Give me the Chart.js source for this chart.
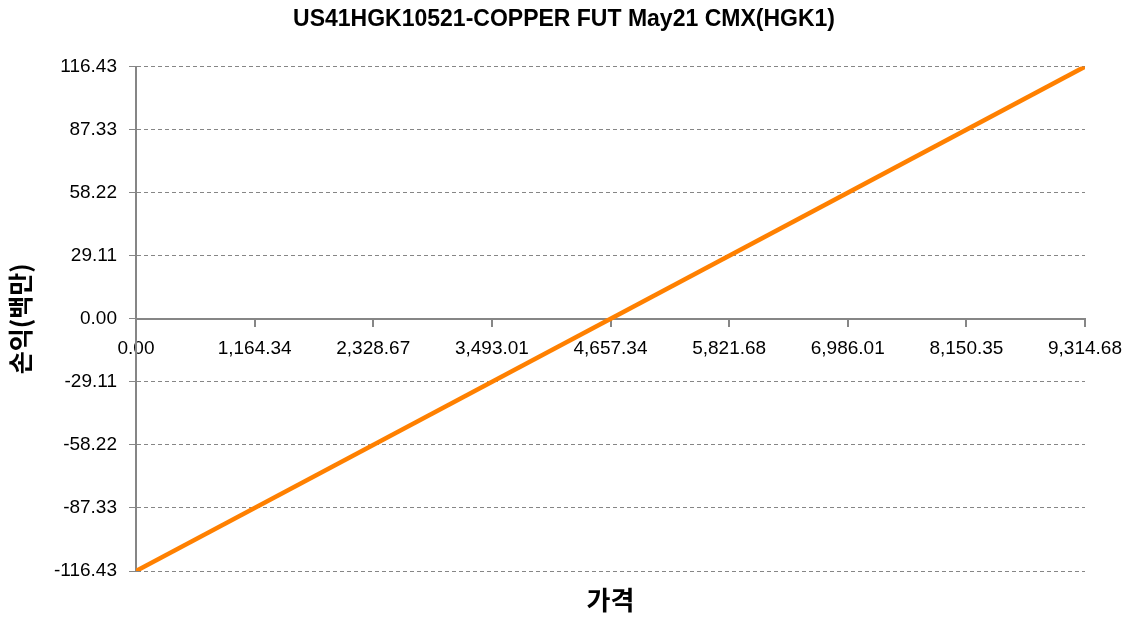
<!DOCTYPE html>
<html>
<head>
<meta charset="utf-8">
<script src="https://cdn.jsdelivr.net/npm/chart.js@4/dist/chart.umd.min.js"></script>
<style>
  html, body { margin: 0; padding: 0; background: #fff; }
  #wrap { width: 1128px; height: 619px; }
</style>
</head>
<body>
<div id="wrap"><canvas id="pnl"></canvas></div>
<script>
const chartTitle = 'US41HGK10521-COPPER FUT May21 CMX(HGK1)';
const xTitle = '가격';
const yTitle = '손익(백만)';

// price / profit-loss line end points
const prices = [0, 9314.68];
const pnl = [-116.43, 116.43];

const xTicks = [0, 1164.34, 2328.67, 3493.01, 4657.34, 5821.68, 6986.01, 8150.35, 9314.68];
const xTickLabels = ['0.00', '1,164.34', '2,328.67', '3,493.01', '4,657.34', '5,821.68', '6,986.01', '8,150.35', '9,314.68'];
const yTicks = [-116.43, -87.33, -58.22, -29.11, 0, 29.11, 58.22, 87.33, 116.43];
const yTickLabels = ['-116.43', '-87.33', '-58.22', '-29.11', '0.00', '29.11', '58.22', '87.33', '116.43'];

const tickFont = { family: 'Liberation Sans', size: 19 };
const axisGray = '#868686';

let points = prices.map((p, i) => ({ x: p, y: pnl[i] }));

let canvas = document.getElementById('pnl').getContext('2d');
let chart = new Chart(canvas, {
    type: 'line',
    data: {
        datasets: [{
            data: points,
            borderColor: '#ff8000',
            borderWidth: 4.5,
            pointRadius: 0,
            tension: 0,
            fill: false,
        }],
    },
    options: {
        responsive: true,
        maintainAspectRatio: false,
        animation: false,
        layout: { padding: 0 },
        plugins: {
            legend: { display: false },
            tooltip: { enabled: false },
            title: {
                display: true,
                text: chartTitle,
                color: '#000',
                font: { family: 'Liberation Sans', size: 23, weight: 'bold' },
                padding: { top: 6, bottom: 33 },
            },
        },
        scales: {
            x: {
                type: 'linear',
                position: { y: 0 },
                min: 0,
                max: 9314.68,
                afterBuildTicks: (scale) => { scale.ticks = xTicks.map(v => ({ value: v })); },
                afterFit: (scale) => { scale.paddingLeft = 0; scale.paddingRight = 0; },
                ticks: {
                    color: '#000',
                    font: tickFont,
                    maxRotation: 0,
                    autoSkip: false,
                    padding: 12,
                    callback: (v, i) => xTickLabels[i],
                },
                grid: { drawOnChartArea: false, drawTicks: true, tickLength: 7, color: axisGray, lineWidth: 2 },
                border: { display: true, color: axisGray, width: 2 },
            },
            // bottom axis only carries the x title
            xTitleAxis: {
                type: 'linear',
                axis: 'x',
                position: 'bottom',
                ticks: { display: false },
                grid: { display: false, drawTicks: false },
                border: { display: false },
                afterFit: (scale) => { scale.height = 48; scale.paddingLeft = 0; scale.paddingRight = 0; },
                title: {
                    display: true,
                    text: xTitle,
                    color: '#000',
                    font: { family: 'Noto Sans CJK KR', size: 26, weight: 'bold' },
                    padding: { top: 0, bottom: 3 },
                },
            },
            y: {
                type: 'linear',
                min: -116.43,
                max: 116.43,
                afterBuildTicks: (scale) => { scale.ticks = yTicks.map(v => ({ value: v })); },
                afterFit: (scale) => { scale.width = 136; },
                title: {
                    display: true,
                    text: yTitle,
                    color: '#000',
                    font: { family: 'Noto Sans CJK KR', size: 25, weight: 'bold' },
                    padding: { top: 5, bottom: 0 },
                },
                ticks: {
                    color: '#000',
                    font: tickFont,
                    padding: 12,
                    callback: (v, i) => yTickLabels[i],
                },
                grid: { color: axisGray, lineWidth: 1, tickLength: 7 },
                border: { display: true, color: axisGray, width: 2, dash: [4, 3] },
            },
            // empty right axis keeps the plot clear of the canvas edge
            yRightSpace: {
                type: 'linear',
                axis: 'y',
                position: 'right',
                ticks: { display: false },
                grid: { display: false, drawTicks: false },
                border: { display: false },
                afterFit: (scale) => { scale.width = 43; },
            },
        },
    },
});
</script>
</body>
</html>
